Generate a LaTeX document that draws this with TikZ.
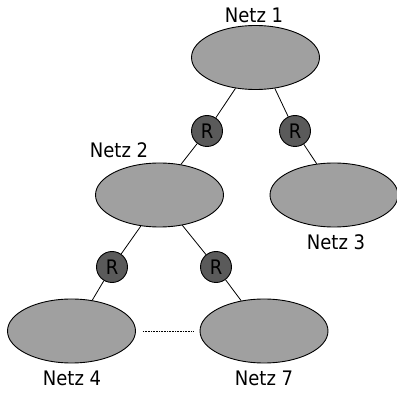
\documentclass[tikz,border=0pt]{standalone}
\usepackage{fontspec}
\setmainfont{DejaVu Sans Condensed}
\usetikzlibrary{shapes.geometric}
\definecolor{netfill}{RGB}{160,160,160}
\definecolor{routerfill}{RGB}{90,90,90}
\begin{document}
\begin{tikzpicture}[x=1pt,y=-1pt,
  net/.style={ellipse,draw=black,fill=netfill,line width=0.9pt,
    minimum width=128pt,minimum height=64pt,inner sep=0pt},
  router/.style={circle,draw=black,fill=routerfill,line width=0.9pt,
    minimum size=31pt,inner sep=0pt,font=\fontsize{20}{24}\selectfont},
  lbl/.style={font=\fontsize{20}{24}\selectfont,inner sep=0pt},
  link/.style={line width=0.8pt}]
\useasboundingbox (0,0) rectangle (397,393);
% networks
\node[net] (n1) at (255.5,57.5) {};
\node[net] (n2) at (159.5,195) {};
\node[net] (n3) at (334,195) {};
\node[net] (n4) at (71.5,331) {};
\node[net] (n7) at (264,331) {};
% routers
\node[router] (r1) at (207,131) {R};
\node[router] (r2) at (295,131) {R};
\node[router] (r3) at (112,267) {R};
\node[router] (r4) at (216,267) {R};
% labels
\node[lbl] (t1) at (254,15) {Netz 1};
\node[lbl] (t2) at (119,150) {Netz 2};
\node[lbl] (t3) at (336,242) {Netz 3};
\node[lbl] (t4) at (72,378) {Netz 4};
\node[lbl] (t7) at (264,378) {Netz 7};
% links
\draw[link] (n1.237) -- (r1) -- (n2.55);
\draw[link] (n1.302) -- (r2) -- (n3.119);
\draw[link] (n2.239) -- (r3) -- (n4.56);
\draw[link] (n2.307) -- (r4) -- (n7.127);
\draw[line width=0.5pt,dash pattern=on 0.8pt off 0.8pt,shorten <=7pt,shorten >=6pt] (n4) -- (n7);
\end{tikzpicture}
\end{document}
